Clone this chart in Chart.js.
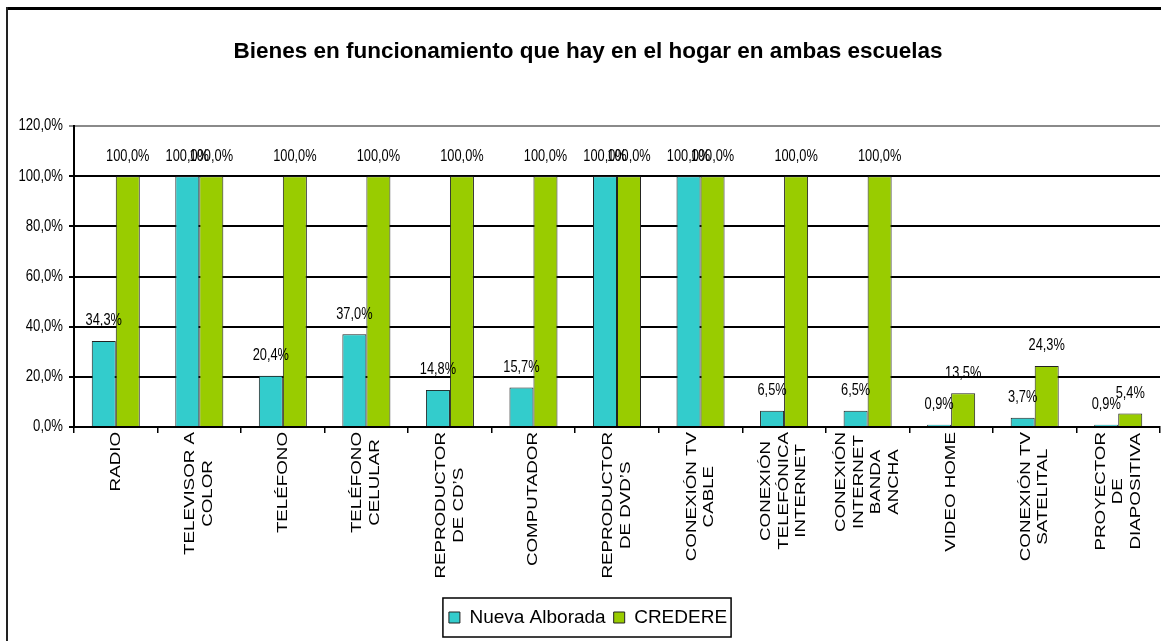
<!DOCTYPE html>
<html>
<head>
<meta charset="utf-8">
<script src="https://cdn.jsdelivr.net/npm/chart.js@4.4.0/dist/chart.umd.min.js"></script>
<style>
  html, body { margin: 0; padding: 0; background: #fff; overflow: hidden; }
</style>
</head>
<body>
<canvas id="myChart" width="1161" height="641"></canvas>
<script>
const categories = [
    ['RADIO'],
    ['TELEVISOR A', 'COLOR'],
    ['TELÉFONO'],
    ['TELÉFONO', 'CELULAR'],
    ['REPRODUCTOR', 'DE CD’S'],
    ['COMPUTADOR'],
    ['REPRODUCTOR', 'DE DVD’S'],
    ['CONEXIÓN TV', 'CABLE'],
    ['CONEXIÓN', 'TELEFÓNICA', 'INTERNET'],
    ['CONEXIÓN', 'INTERNET', 'BANDA', 'ANCHA'],
    ['VIDEO HOME'],
    ['CONEXIÓN TV', 'SATELITAL'],
    ['PROYECTOR', 'DE', 'DIAPOSITIVA'],
];
const nuevaAlborada = [34.3, 100, 20.4, 37.0, 14.8, 15.7, 100, 100, 6.5, 6.5, 0.9, 3.7, 0.9];
const credere = [100, 100, 100, 100, 100, 100, 100, 100, 100, 100, 13.5, 24.3, 5.4];
const yTicks = [0, 20, 40, 60, 80, 100, 120];

const SANS = '"Liberation Sans", Arial, sans-serif';
const fmt = v => v.toFixed(1).replace('.', ',') + '%';
const PAD_LEFT = 16;

// narrow-looking text: normal font squeezed horizontally
function narrowText(ctx, text, x, y, align, size, squeeze) {
    ctx.save();
    ctx.font = size + 'px ' + SANS;
    ctx.textAlign = align;
    ctx.textBaseline = 'middle';
    ctx.fillStyle = '#000';
    ctx.translate(x, y);
    ctx.scale(squeeze, 1);
    ctx.fillText(text, 0, 0);
    ctx.restore();
}

// frame + white background
const framePlugin = {
    id: 'frame',
    beforeDraw(chart) {
        const ctx = chart.ctx;
        ctx.save();
        ctx.fillStyle = '#fff';
        ctx.fillRect(0, 0, chart.width, chart.height);
        ctx.fillStyle = '#000';
        ctx.fillRect(6, 7, chart.width - 6, 3);
        ctx.fillStyle = '#222';
        ctx.fillRect(6, 7, 2, chart.height - 7);
        ctx.restore();
    }
};

// y tick labels (squeezed)
const yLabels = {
    id: 'yLabels',
    afterDraw(chart) {
        const sy = chart.scales.y;
        sy.ticks.forEach(t => {
            narrowText(chart.ctx, fmt(t.value), sy.right - 11, sy.getPixelForValue(t.value), 'right', 16, 0.82);
        });
    }
};

// value labels above bars
const valueLabels = {
    id: 'valueLabels',
    afterDatasetsDraw(chart) {
        chart.data.datasets.forEach((ds, di) => {
            chart.getDatasetMeta(di).data.forEach((bar, i) => {
                narrowText(chart.ctx, fmt(ds.data[i]), bar.x, bar.y - 20, 'center', 16, 0.8);
            });
        });
    }
};

// rotated, centred multi-line category labels
const xLabels = {
    id: 'xLabels',
    afterDraw(chart) {
        const ctx = chart.ctx;
        const sx = chart.scales.x;
        const stretch = 1.34, lh = 17.5;
        ctx.save();
        ctx.font = '14px ' + SANS;
        ctx.fillStyle = '#000';
        ctx.textAlign = 'center';
        ctx.textBaseline = 'middle';
        categories.forEach((lines, i) => {
            const x = sx.getPixelForValue(i);
            const w = Math.max(...lines.map(l => ctx.measureText(l).width));
            ctx.save();
            ctx.translate(x, sx.top + 5);
            ctx.rotate(-Math.PI / 2);
            ctx.scale(stretch, 1);
            lines.forEach((l, k) => {
                ctx.fillText(l, -w / 2, (k - (lines.length - 1) / 2) * lh);
            });
            ctx.restore();
        });
        ctx.restore();
    }
};

// border around legend
const legendBox = {
    id: 'legendBox',
    afterDraw(chart) {
        const boxes = chart.legend.legendHitBoxes;
        if (!boxes || !boxes.length) return;
        const left = Math.min(...boxes.map(b => b.left)) - 6;
        const right = Math.max(...boxes.map(b => b.left + b.width)) + 4;
        const top = Math.min(...boxes.map(b => b.top)) - 10;
        const bottom = Math.max(...boxes.map(b => b.top + b.height)) + 10;
        const ctx = chart.ctx;
        ctx.save();
        ctx.strokeStyle = '#000';
        ctx.lineWidth = 1.5;
        ctx.strokeRect(left, top, right - left, bottom - top);
        ctx.restore();
    }
};

const data = {
    labels: categories,
    datasets: [{
        label: 'Nueva Alborada',
        data: nuevaAlborada,
        backgroundColor: '#33CCCC',
        borderColor: '#222',
        borderWidth: 1,
    }, {
        label: 'CREDERE',
        data: credere,
        backgroundColor: '#99CC00',
        borderColor: '#222',
        borderWidth: 1,
    }]
};

const config = {
    type: 'bar',
    data: data,
    options: {
        responsive: false,
        animation: false,
        devicePixelRatio: 1,
        layout: { padding: { left: PAD_LEFT, right: 1, top: 0, bottom: 4 } },
        datasets: { bar: { categoryPercentage: 0.575, barPercentage: 1 } },
        plugins: {
            title: {
                display: true,
                text: 'Bienes en funcionamiento que hay en el hogar en ambas escuelas',
                color: '#000',
                font: { family: SANS, size: 22.5, weight: 'bold' },
                padding: { top: 38, bottom: 61 },
            },
            legend: {
                position: 'bottom',
                labels: {
                    color: '#000',
                    font: { family: SANS, size: 19 },
                    boxWidth: 11,
                    boxHeight: 11,
                    padding: 8,
                },
            },
            tooltip: { enabled: false },
        },
        scales: {
            x: {
                grid: { drawOnChartArea: false, drawTicks: true, tickLength: 6, color: '#000', lineWidth: 1.5 },
                border: { color: '#000', width: 2 },
                ticks: { display: false },
                afterFit: s => { s.height = 173; },
            },
            y: {
                min: 0,
                max: 120,
                afterBuildTicks: s => { s.ticks = yTicks.map(v => ({ value: v })); },
                grid: {
                    color: c => c.tick && c.tick.value === 120 ? '#8a8a8a' : '#000',
                    lineWidth: 2,
                    tickLength: 5,
                },
                border: { color: '#000', width: 2 },
                ticks: { display: false },
                afterFit: s => { s.width = 74 - PAD_LEFT; },
            },
        },
    },
    plugins: [framePlugin, valueLabels, yLabels, xLabels, legendBox],
};

const myChart = new Chart(document.getElementById('myChart'), config);
</script>
</body>
</html>
